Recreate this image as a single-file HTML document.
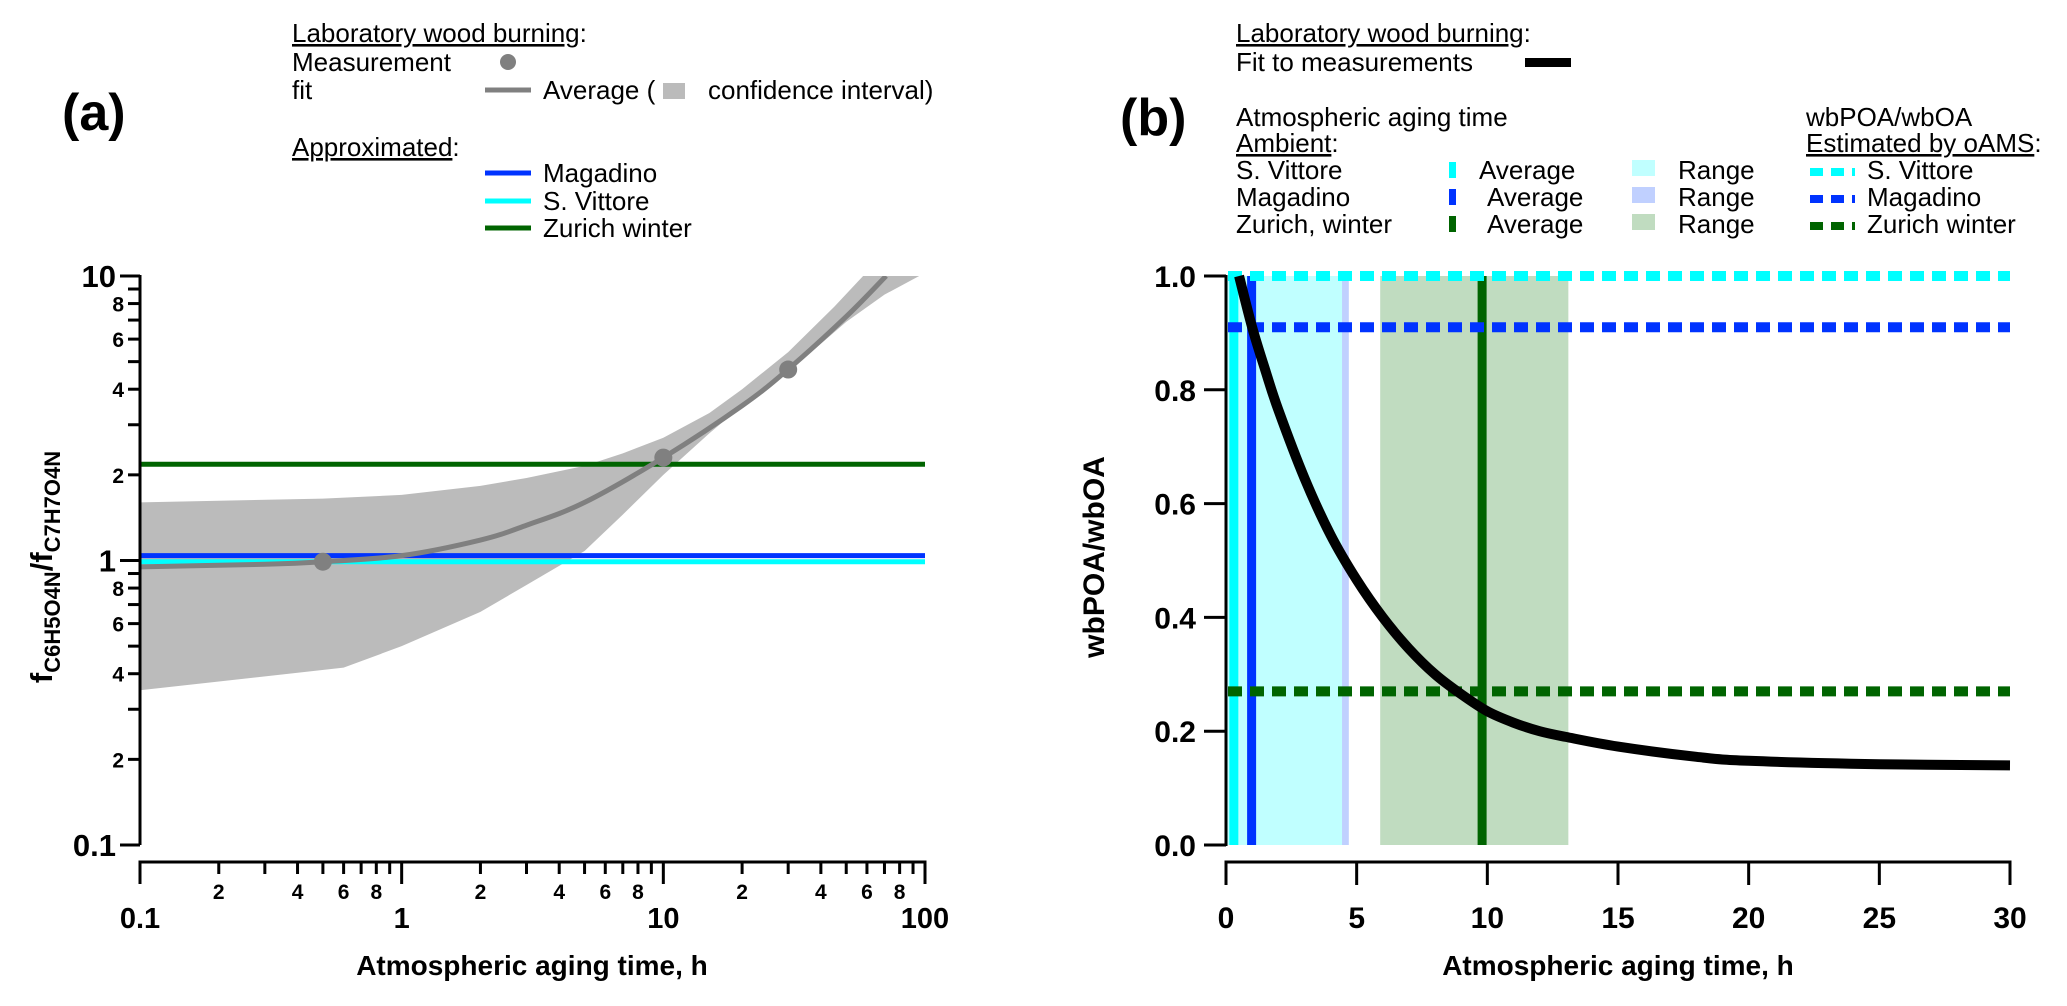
<!DOCTYPE html>
<html><head><meta charset="utf-8"><style>
html,body{margin:0;padding:0;background:#fff;}
svg{display:block;font-family:"Liberation Sans",Arial,sans-serif;}
.lg{font-size:26px;fill:#000;}
.tb{font-weight:bold;fill:#000;}
</style></head><body>
<svg id="fig" width="2067" height="1006" viewBox="0 0 2067 1006" xmlns="http://www.w3.org/2000/svg">
<defs>
<clipPath id="clipA"><rect x="140" y="276" width="785" height="569"/></clipPath>
<clipPath id="clipB"><rect x="1226" y="270" width="790" height="576"/></clipPath>
</defs>
<text x="62" y="130" class="tb" font-size="52">(a)</text>
<text x="1120" y="135" class="tb" font-size="52">(b)</text>

<g>
<text x="292" y="42" class="lg"><tspan text-decoration="underline">Laboratory wood burning</tspan>:</text>
<text x="292" y="71" class="lg">Measurement</text>
<circle cx="508" cy="62" r="8" fill="#808080"/>
<text x="292" y="99" class="lg">fit</text>
<line x1="485" y1="90" x2="531" y2="90" stroke="#808080" stroke-width="5"/>
<text x="543" y="99" class="lg">Average (</text>
<rect x="663" y="83" width="22" height="16" fill="#bbbbbb"/>
<text x="708" y="99" class="lg">confidence interval)</text>
<text x="292" y="156" class="lg"><tspan text-decoration="underline">Approximated</tspan>:</text>
<line x1="485" y1="173" x2="531" y2="173" stroke="#0033ff" stroke-width="5"/>
<text x="543" y="182" class="lg">Magadino</text>
<line x1="485" y1="201" x2="531" y2="201" stroke="#00ffff" stroke-width="5"/>
<text x="543" y="210" class="lg">S. Vittore</text>
<line x1="485" y1="228" x2="531" y2="228" stroke="#006400" stroke-width="5"/>
<text x="543" y="237" class="lg">Zurich winter</text>
</g>

<g>
<text x="1236" y="42" class="lg"><tspan text-decoration="underline">Laboratory wood burning</tspan>:</text>
<text x="1236" y="71" class="lg">Fit to measurements</text>
<rect x="1525" y="58" width="46" height="9" fill="#000"/>
<text x="1236" y="126" class="lg">Atmospheric aging time</text>
<text x="1236" y="152" class="lg"><tspan text-decoration="underline">Ambient</tspan>:</text>
<text x="1236" y="179" class="lg">S. Vittore</text>
<text x="1236" y="206" class="lg">Magadino</text>
<text x="1236" y="233" class="lg">Zurich, winter</text>
<rect x="1449" y="162" width="7" height="16" fill="#00ffff"/>
<rect x="1449" y="189" width="7" height="16" fill="#0033ff"/>
<rect x="1449" y="216" width="7" height="16" fill="#006400"/>
<text x="1479" y="179" class="lg">Average</text>
<text x="1487" y="206" class="lg">Average</text>
<text x="1487" y="233" class="lg">Average</text>
<rect x="1632" y="160" width="23" height="16" fill="#c0ffff"/>
<rect x="1632" y="187" width="23" height="16" fill="#c0d0ff"/>
<rect x="1632" y="214" width="23" height="16" fill="#c0dcc0"/>
<text x="1678" y="179" class="lg">Range</text>
<text x="1678" y="206" class="lg">Range</text>
<text x="1678" y="233" class="lg">Range</text>
<text x="1806" y="126" class="lg">wbPOA/wbOA</text>
<text x="1806" y="152" class="lg"><tspan text-decoration="underline">Estimated by oAMS</tspan>:</text>
<line x1="1810" y1="172" x2="1855" y2="172" stroke="#00ffff" stroke-width="8" stroke-dasharray="13 8"/>
<line x1="1810" y1="199" x2="1855" y2="199" stroke="#0033ff" stroke-width="8" stroke-dasharray="13 8"/>
<line x1="1810" y1="226" x2="1855" y2="226" stroke="#006400" stroke-width="8" stroke-dasharray="13 8"/>
<text x="1867" y="179" class="lg">S. Vittore</text>
<text x="1867" y="206" class="lg">Magadino</text>
<text x="1867" y="233" class="lg">Zurich winter</text>
</g>

<g id="plotA"></g>
<g id="plotB"></g>

<text x="532" y="975" text-anchor="middle" class="tb" font-size="28">Atmospheric aging time, h</text>
<text x="1618" y="975" text-anchor="middle" class="tb" font-size="28">Atmospheric aging time, h</text>
<text transform="translate(52,567) rotate(-90)" text-anchor="middle" class="tb" font-size="31">f<tspan font-size="22" dy="8">C6H5O4N</tspan><tspan dy="-8">/f</tspan><tspan font-size="22" dy="8">C7H7O4N</tspan></text>
<text transform="translate(1104,557) rotate(-90)" text-anchor="middle" class="tb" font-size="30">wbPOA/wbOA</text>
</svg>
<script>
// ---------- Panel (a) data ----------
const measX = [0.5, 10, 30];
const measY = [0.99, 2.3, 4.69];
const fitX = [0.1, 0.3, 0.5, 1, 2, 3, 5, 10, 20, 30, 50, 71];
const fitY = [0.95, 0.97, 0.99, 1.04, 1.18, 1.33, 1.6, 2.3, 3.5, 4.7, 7.2, 10];
const upperX = [0.1, 0.5, 1, 2, 3, 5, 7, 10, 15, 20, 30, 45, 58];
const upperY = [1.6, 1.65, 1.7, 1.83, 1.95, 2.15, 2.38, 2.7, 3.3, 4.0, 5.4, 7.8, 10];
const lowerX = [0.1, 0.6, 1, 2, 3, 5, 7, 10, 15, 20, 30, 50, 70, 95];
const lowerY = [0.35, 0.42, 0.5, 0.66, 0.82, 1.08, 1.45, 2.0, 2.8, 3.5, 4.6, 6.9, 8.6, 10];
const refNames = ["magadino", "svittore", "zurich"];
const refValues = [1.04, 0.99, 2.18];
const refColors = ["#0033ff", "#00ffff", "#006400"];
const aMajorTicks = [0.1, 1, 10, 100];
const aMajorLabels = ["0.1", "1", "10", "100"];
const aMinorLabels = ["2", "4", "6", "8"];
const aYMajorTicks = [0.1, 1, 10];
const aYMajorLabels = ["0.1", "1", "10"];

// ---------- Panel (b) data ----------
const curveT = [0.5, 1, 1.5, 2, 3, 4, 5, 6, 7, 8, 9, 10, 11, 12, 13, 15, 18, 20, 25, 30];
const curveY = [1.0, 0.91, 0.835, 0.765, 0.645, 0.545, 0.466, 0.4, 0.345, 0.3, 0.265, 0.235, 0.215, 0.2, 0.19, 0.173, 0.155, 0.148, 0.142, 0.14];
const rangeNames = ["magadino", "svittore", "zurich"];
const rangeStart = [0.0, 0.0, 5.9];
const rangeEnd = [4.7, 4.44, 13.1];
const rangeColors = ["#c0d0ff", "#c0ffff", "#c0dcc0"];
const avgNames = ["svittore", "magadino", "zurich"];
const avgValues = [0.3, 0.98, 9.8];
const avgColors = ["#00ffff", "#0033ff", "#006400"];
const oamsNames = ["svittore", "magadino", "zurich"];
const oamsValues = [1.0, 0.91, 0.27];
const oamsColors = ["#00ffff", "#0033ff", "#006400"];
const bXTicks = [0, 5, 10, 15, 20, 25, 30];
const bYTicks = [0, 0.2, 0.4, 0.6, 0.8, 1.0];
const bYLabels = ["0.0", "0.2", "0.4", "0.6", "0.8", "1.0"];

const NS = "http://www.w3.org/2000/svg";
function mk(tag, attrs, parent) {
  const e = document.createElementNS(NS, tag);
  for (const k in attrs) e.setAttribute(k, attrs[k]);
  parent.appendChild(e);
  return e;
}
function smooth(p) {
  let d = 'M' + p[0][0] + ',' + p[0][1];
  for (let i = 0; i < p.length - 1; i++) {
    const p0 = p[i - 1] || p[i], p1 = p[i], p2 = p[i + 1], p3 = p[i + 2] || p2;
    const c1x = p1[0] + (p2[0] - p0[0]) / 6, c1y = p1[1] + (p2[1] - p0[1]) / 6;
    const c2x = p2[0] - (p3[0] - p1[0]) / 6, c2y = p2[1] - (p3[1] - p1[1]) / 6;
    d += ' C' + c1x + ',' + c1y + ' ' + c2x + ',' + c2y + ' ' + p2[0] + ',' + p2[1];
  }
  return d;
}
const AX0 = 140, AX1 = 925, AYT = 276, AYB = 845, AXAXIS = 862;
function ax(v) { return AX0 + (Math.log10(v) + 1) * (AX1 - AX0) / 3; }
function ay(v) { return AYB - (Math.log10(v) + 1) * (AYB - AYT) / 2; }
const BX0 = 1226, BX1 = 2010, BYT = 276, BYB = 845, BXAXIS = 862;
function bx(t) { return BX0 + t * (BX1 - BX0) / 30; }
function by(v) { return BYB - v * (BYB - BYT); }

// ---------- panel (a) ----------
const A = document.getElementById('plotA');
const gA = mk('g', {'clip-path': 'url(#clipA)'}, A);


const bandPts = [];
upperX.forEach((x, i) => bandPts.push(ax(x) + ',' + ay(upperY[i])));
for (let i = lowerX.length - 1; i >= 0; i--) bandPts.push(ax(lowerX[i]) + ',' + ay(lowerY[i]));
const band = mk('polygon', {points: bandPts.join(' '), fill: '#bbbbbb'}, gA);


refValues.forEach((v, i) => {
  const l = mk('line', {x1: AX0, x2: AX1, y1: ay(v), y2: ay(v), stroke: refColors[i], 'stroke-width': 5}, gA);
  
  
});
const fitD = smooth(fitX.map((x, i) => [ax(x), ay(fitY[i])]));
const fitLine = mk('path', {d: fitD, fill: 'none', stroke: '#808080', 'stroke-width': 5}, gA);


measX.forEach((x, i) => {
  const c = mk('circle', {cx: ax(x), cy: ay(measY[i]), r: 9, fill: '#808080'}, gA);
  
  
});
const yaxA = mk('g', {}, A);


mk('line', {x1: AX0, x2: AX0, y1: AYT - 1, y2: AYB, stroke: '#000', 'stroke-width': 3}, yaxA);
aYMajorTicks.forEach((v, i) => {
  mk('line', {x1: AX0 - 20, x2: AX0, y1: ay(v), y2: ay(v), stroke: '#000', 'stroke-width': 3}, yaxA);
  const t = mk('text', {x: AX0 - 24, y: ay(v) + 11, 'text-anchor': 'end', 'font-size': 31, 'font-weight': 'bold'}, yaxA);
  t.textContent = aYMajorLabels[i];
  
  
});
[0.1, 1].forEach(dec => {
  for (let m = 2; m <= 9; m++) {
    const v = dec * m;
    mk('line', {x1: AX0 - 12, x2: AX0, y1: ay(v), y2: ay(v), stroke: '#000', 'stroke-width': 3}, yaxA);
    if (m % 2 === 0) {
      const t = mk('text', {x: AX0 - 16, y: ay(v) + 8, 'text-anchor': 'end', 'font-size': 21, 'font-weight': 'bold'}, yaxA);
      t.textContent = aMinorLabels[m / 2 - 1];
      
      
    }
  }
});
const xaxA = mk('g', {}, A);


mk('line', {x1: AX0 - 1.5, x2: AX1 + 1.5, y1: AXAXIS, y2: AXAXIS, stroke: '#000', 'stroke-width': 3}, xaxA);
aMajorTicks.forEach((v, i) => {
  mk('line', {x1: ax(v), x2: ax(v), y1: AXAXIS, y2: AXAXIS + 22, stroke: '#000', 'stroke-width': 3}, xaxA);
  const t = mk('text', {x: ax(v), y: AXAXIS + 66, 'text-anchor': 'middle', 'font-size': 29, 'font-weight': 'bold'}, xaxA);
  t.textContent = aMajorLabels[i];
  
  
});
[0.1, 1, 10].forEach(dec => {
  for (let m = 2; m <= 9; m++) {
    const v = dec * m;
    mk('line', {x1: ax(v), x2: ax(v), y1: AXAXIS, y2: AXAXIS + 12, stroke: '#000', 'stroke-width': 3}, xaxA);
    if (m % 2 === 0) {
      const t = mk('text', {x: ax(v), y: AXAXIS + 37, 'text-anchor': 'middle', 'font-size': 21, 'font-weight': 'bold'}, xaxA);
      t.textContent = aMinorLabels[m / 2 - 1];
      
      
    }
  }
});

// ---------- panel (b) ----------
const B = document.getElementById('plotB');
const gB = mk('g', {'clip-path': 'url(#clipB)'}, B);


rangeStart.forEach((s, i) => {
  const r = mk('rect', {x: bx(s), y: by(1.0), width: bx(rangeEnd[i]) - bx(s), height: by(0) - by(1.0), fill: rangeColors[i]}, gB);
  
  
});
avgValues.forEach((v, i) => {
  const l = mk('line', {x1: bx(v), x2: bx(v), y1: by(1.0), y2: by(0), stroke: avgColors[i], 'stroke-width': 9}, gB);
  
  
});
oamsValues.forEach((v, i) => {
  const l = mk('line', {x1: BX0 + 2, x2: BX1, y1: by(v), y2: by(v), stroke: oamsColors[i], 'stroke-width': 10, 'stroke-dasharray': '14 8'}, gB);
  
  
});
const curveD = smooth(curveT.map((t, i) => [bx(t), by(curveY[i])]));
const curve = mk('path', {d: curveD, fill: 'none', stroke: '#000', 'stroke-width': 10}, gB);


const yaxB = mk('g', {}, B);


mk('line', {x1: BX0, x2: BX0, y1: by(1.0) - 1, y2: BYB + 1, stroke: '#000', 'stroke-width': 3}, yaxB);
bYTicks.forEach((v, i) => {
  mk('line', {x1: BX0 - 22, x2: BX0, y1: by(v), y2: by(v), stroke: '#000', 'stroke-width': 3}, yaxB);
  const t = mk('text', {x: BX0 - 30, y: by(v) + 11, 'text-anchor': 'end', 'font-size': 30, 'font-weight': 'bold'}, yaxB);
  t.textContent = bYLabels[i];
  
  
});
const xaxB = mk('g', {}, B);


mk('line', {x1: BX0 - 1.5, x2: BX1 + 1.5, y1: BXAXIS, y2: BXAXIS, stroke: '#000', 'stroke-width': 3}, xaxB);
bXTicks.forEach(v => {
  mk('line', {x1: bx(v), x2: bx(v), y1: BXAXIS, y2: BXAXIS + 23, stroke: '#000', 'stroke-width': 3}, xaxB);
  const t = mk('text', {x: bx(v), y: BXAXIS + 66, 'text-anchor': 'middle', 'font-size': 30, 'font-weight': 'bold'}, xaxB);
  t.textContent = String(v);
  
  
});
</script>
</body></html>
